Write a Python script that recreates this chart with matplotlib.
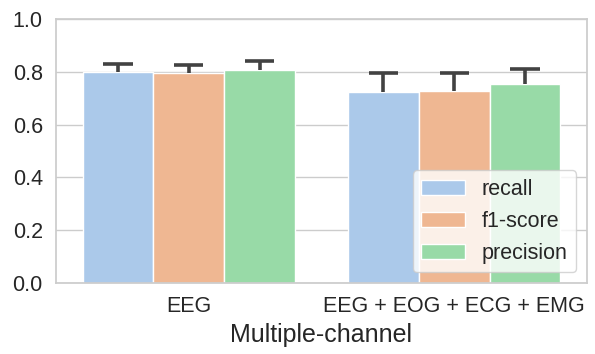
import numpy as np
import matplotlib
matplotlib.use("Agg")
import matplotlib.pyplot as plt
import seaborn as sns

# per-channel-set scores (mean and upper spread)
groups = ["EEG", "EEG + EOG + ECG + EMG"]
metrics = ["recall", "f1-score", "precision"]
recall = [0.798, 0.725]
recall_err = [0.030, 0.070]
f1_score = [0.794, 0.727]
f1_score_err = [0.032, 0.068]
precision = [0.808, 0.755]
precision_err = [0.034, 0.054]

sns.set_theme(style="whitegrid")
plt.rcParams["font.family"] = ["Liberation Sans", "DejaVu Sans"]

fig = plt.figure(figsize=(5.95, 3.54), dpi=100)
ax = fig.add_axes([56 / 595, 1 - 283 / 354, 531 / 595, 264 / 354])

palette = [sns.desaturate(c, 0.75) for c in sns.color_palette("pastel")[:3]]
values = [recall, f1_score, precision]
errors = [recall_err, f1_score_err, precision_err]

x = np.arange(len(groups))
width = 0.8 / len(metrics)
cap = 0.11
for i, (name, vals, errs) in enumerate(zip(metrics, values, errors)):
    pos = x - 0.4 + width * (i + 0.5)
    vals = np.array(vals)
    tops = vals + np.array(errs)
    ax.bar(pos, vals, width, color=palette[i], edgecolor="white",
           linewidth=1, label=name, zorder=2)
    # only the upper half of the error bar shows above the bar
    ax.vlines(pos, vals, tops, color="#424242", linewidth=2.6, zorder=3)
    ax.hlines(tops, pos - cap / 2, pos + cap / 2, color="#424242",
              linewidth=2.6, zorder=3)

ax.set_xlim(-0.5, 1.5)
ax.set_ylim(0, 1.0)
ax.set_yticks(np.arange(0, 1.01, 0.2))
ax.set_xticks(x)
ax.set_xticklabels(groups)
ax.xaxis.grid(False)
ax.tick_params(axis="both", labelsize=15.5)
ax.set_xlabel("Multiple-channel", fontsize=18)

ax.legend(loc="lower right", fontsize=15.5, framealpha=0.8)

fig.savefig("out.png", dpi=100)
